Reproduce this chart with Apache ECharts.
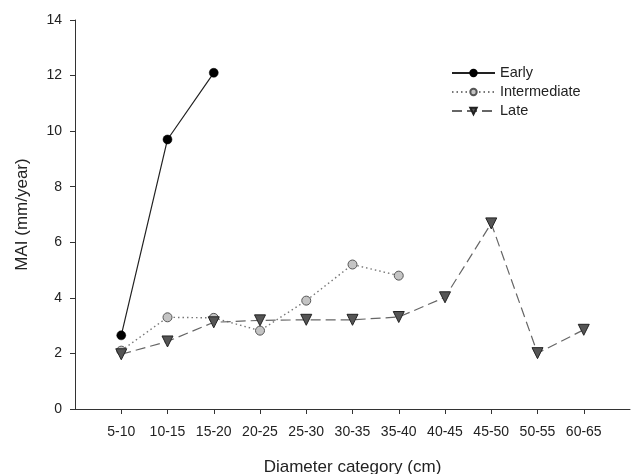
<!DOCTYPE html>
<html>
<head>
<meta charset="utf-8">
<script src="https://cdn.jsdelivr.net/npm/echarts@6/dist/echarts.min.js"></script>
<style>html,body{margin:0;padding:0;background:#fff}#c{width:636px;height:474px}</style>
</head>
<body>
<div id="c"></div>
<script>
const categories = ['5-10','10-15','15-20','20-25','25-30','30-35','35-40','40-45','45-50','50-55','60-65'];
const early = [2.65, 9.7, 12.1, null, null, null, null, null, null, null, null];
const intermediate = [2.1, 3.3, 3.28, 2.82, 3.9, 5.2, 4.8, null, null, null, null];
const late = [1.97, 2.43, 3.12, 3.19, 3.21, 3.21, 3.31, 4.02, 6.68, 2.01, 2.85];
const yTicks = [0, 2, 4, 6, 8, 10, 12, 14];

const xData = [''].concat(categories, ['']);
const pad = arr => [null].concat(arr, [null]);
const font = 'Liberation Sans, Arial, sans-serif';

const chart = echarts.init(document.getElementById('c'));
chart.setOption({
  animation: false,
  grid: {left: 75, top: 20, right: 6, bottom: 65, containLabel: false, outerBoundsMode: 'none'},
  legend: {
    left: 446, top: 60, orient: 'vertical', itemWidth: 43, itemHeight: 8, itemGap: 3,
    textStyle: {fontFamily: font, fontSize: 14.5, color: '#222', padding: [0,0,0,0], lineHeight: 16},
    data: ['Early', 'Intermediate', 'Late']
  },
  xAxis: {
    type: 'category', data: xData, boundaryGap: false,
    name: 'Diameter category (cm)', nameLocation: 'middle', nameGap: 50,
    nameTextStyle: {fontFamily: font, fontSize: 17, color: '#222'},
    axisLine: {lineStyle: {color: '#333', width: 1}},
    axisTick: {length: 5, interval: (i, v) => v !== '', lineStyle: {color: '#333'}},
    axisLabel: {fontFamily: font, fontSize: 14, color: '#222', margin: 16, interval: 0},
    splitLine: {show: false}
  },
  yAxis: {
    type: 'value', min: yTicks[0], max: yTicks[yTicks.length-1], interval: 2,
    name: 'MAI (mm/year)', nameLocation: 'middle', nameGap: 44,
    nameTextStyle: {fontFamily: font, fontSize: 17, color: '#222'},
    axisLine: {show: true, lineStyle: {color: '#333', width: 1}},
    axisTick: {show: true, length: 5, lineStyle: {color: '#333'}},
    axisLabel: {fontFamily: font, fontSize: 14, color: '#222', margin: 13},
    splitLine: {show: false}
  },
  series: [
    {
      name: 'Early', type: 'line', data: pad(early), connectNulls: false,
      symbol: 'circle', symbolSize: 9,
      lineStyle: {color: '#222', width: 1.2},
      itemStyle: {color: '#000', borderColor: '#000', borderWidth: 0.5}
    },
    {
      name: 'Intermediate', type: 'line', data: pad(intermediate),
      symbol: 'circle', symbolSize: 9,
      lineStyle: {color: '#777', width: 1.4, type: [1.5, 3]},
      itemStyle: {color: '#c4c4c4', borderColor: '#555', borderWidth: 1}
    },
    {
      name: 'Late', type: 'line', data: pad(late),
      symbol: 'triangle', symbolRotate: 180, symbolSize: 11,
      lineStyle: {color: '#666', width: 1.2, type: [10, 5]},
      itemStyle: {color: '#555', borderColor: '#222', borderWidth: 1}
    }
  ]
});
</script>
</body>
</html>
